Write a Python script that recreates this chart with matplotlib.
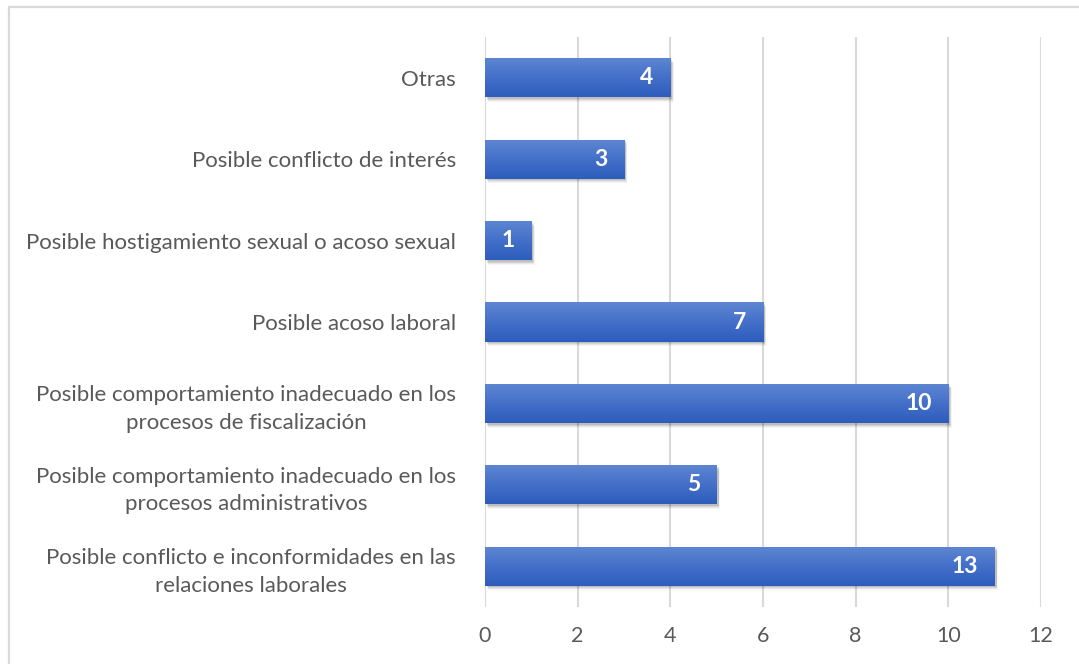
import numpy as np
import matplotlib
matplotlib.use("Agg")
import matplotlib.pyplot as plt
from matplotlib.patches import Rectangle

# categorías (de abajo hacia arriba)
categories = [
    "Posible conflicto e inconformidades en las\nrelaciones laborales",
    "Posible comportamiento inadecuado en los\nprocesos administrativos",
    "Posible comportamiento inadecuado en los\nprocesos de fiscalización",
    "Posible acoso laboral",
    "Posible hostigamiento sexual o acoso sexual",
    "Posible conflicto de interés",
    "Otras",
]
bar_lengths = [11, 5, 10, 6, 1, 3, 4]
bar_labels = ["13", "5", "10", "7", "1", "3", "4"]
x_ticks = [0, 2, 4, 6, 8, 10, 12]

plt.rcParams["font.family"] = ["Lato", "DejaVu Sans"]

fig = plt.figure(figsize=(10.79, 6.64), dpi=100)
ax = fig.add_axes([0.4495, 0.0858, 0.5153, 0.8585])

# cadre gris autour du graphique
fig.patches.append(Rectangle((9 / 1079, -0.05), 1.2, 1 - 7 / 664 + 0.05,
                             transform=fig.transFigure, fill=False,
                             edgecolor="#D9D9D9", linewidth=1.6, zorder=0))

h = 0.48
grad = np.linspace(0, 1, 64).reshape(-1, 1)
cmap = matplotlib.colors.LinearSegmentedColormap.from_list(
    "blue", ["#2E5CBD", "#4470C9", "#5E86D2"])

for i, (v, lab) in enumerate(zip(bar_lengths, bar_labels)):
    # ombre
    for k, a in enumerate([0.10, 0.08, 0.06, 0.04]):
        off = 0.02 + k * 0.012
        ax.add_patch(Rectangle((0.04 + k * 0.01, i - h / 2 - off), v, h,
                               facecolor="black", alpha=a, linewidth=0, zorder=2))
    bars = ax.barh(i, v, height=h, color="none", zorder=3)
    rect = bars[0]
    im = ax.imshow(grad, cmap=cmap, aspect="auto", origin="lower",
                   extent=(0, v, i - h / 2, i + h / 2), zorder=3)
    im.set_clip_path(rect)
    ax.text(v - 0.36, i, lab, ha="right", va="center", color="white",
            fontsize=16.5, fontweight="bold", zorder=4)

ax.set_xlim(0, 12)
ax.set_ylim(-0.5, 6.5)
ax.set_xticks(x_ticks)
ax.set_yticks(range(len(categories)))
ax.set_yticklabels(categories, multialignment="center", linespacing=1.45)
ax.tick_params(axis="y", length=0, labelsize=16, labelcolor="#595959", pad=21)
ax.tick_params(axis="x", length=0, labelsize=15.5, labelcolor="#595959", pad=14)
ax.grid(axis="x", color="#D9D9D9", linewidth=1.5, zorder=0)
ax.set_axisbelow(True)
for s in ax.spines.values():
    s.set_visible(False)

fig.savefig("out.png", dpi=100)
